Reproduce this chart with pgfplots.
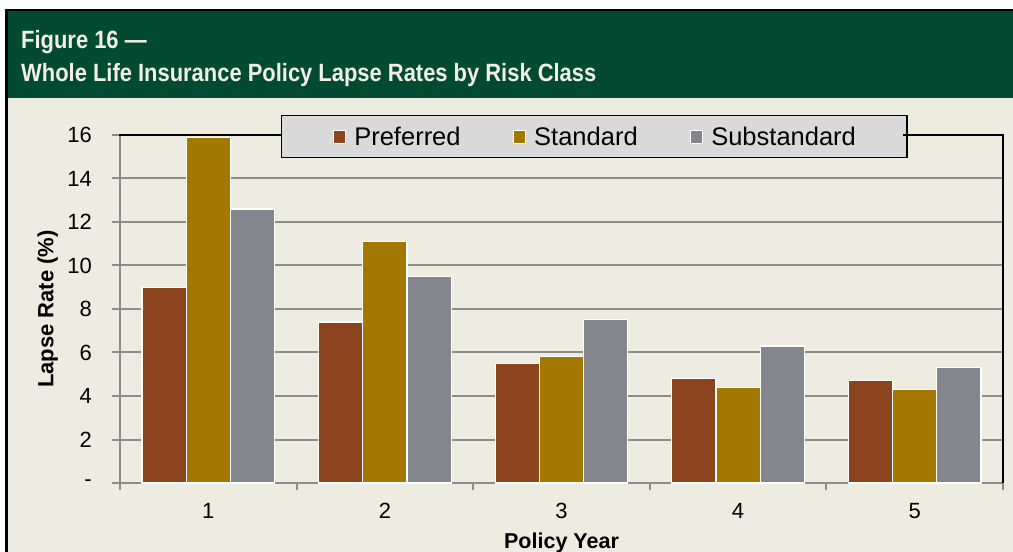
\documentclass[border=0pt]{standalone}
\usepackage{fontspec}
\setmainfont{Liberation Sans}
\newfontfamily\titlefont[FakeStretch=0.877]{Liberation Sans}
\usepackage{pgfplots}
\pgfplotsset{compat=1.18}
\definecolor{hdr}{HTML}{034A32}
\definecolor{bg}{HTML}{EEEBE1}
\definecolor{pref}{HTML}{8B441E}
\definecolor{stdc}{HTML}{A37800}
\definecolor{subc}{HTML}{84868E}
\definecolor{gridc}{HTML}{8C8C8C}
\definecolor{legfill}{HTML}{D9D9D9}
\definecolor{titlec}{HTML}{F2F0E4}
\begin{document}
\begin{tikzpicture}[x=1pt,y=1pt]
\useasboundingbox (0pt,0pt) rectangle (1013pt,552pt);
\clip (0pt,0pt) rectangle (1013pt,552pt);
\fill[white] (0pt,0pt) rectangle (1013pt,552pt);
\fill[black] (5pt,-5pt) rectangle (1020pt,543pt);
\fill[bg] (8pt,-5pt) rectangle (1020pt,541pt);
\fill[hdr] (8pt,454pt) rectangle (1020pt,541pt);
\node[anchor=base west, inner sep=0pt, text=titlec, font=\titlefont\bfseries\fontsize{25}{30}\selectfont] at (21pt,503pt) {Figure 16 —};
\node[anchor=base west, inner sep=0pt, text=titlec, font=\titlefont\bfseries\fontsize{25}{30}\selectfont] at (21pt,470.3pt) {Whole Life Insurance Policy Lapse Rates by Risk Class};
\begin{axis}[
  at={(120pt,69pt)}, anchor=south west, scale only axis,
  width=883pt, height=348pt,
  xmin=0.5, xmax=5.5, ymin=0, ymax=16,
  ybar, bar width=0.25,
  axis x line*=bottom, axis y line*=left,
  axis line style={gridc, line width=2pt, -},
  xtick={1,2,3,4,5}, xticklabels={1,2,3,4,5},
  minor xtick={0.5,1.5,2.5,3.5,4.5,5.5},
  ytick={0,2,4,6,8,10,12,14,16},
  yticklabels={-,2,4,6,8,10,12,14,16},
  tick align=outside,
  major tick length=8pt, minor tick length=7pt,
  tick style={gridc, line width=2pt},
  major x tick style={draw=none},
  ymajorgrids, grid style={gridc, line width=2pt},
  ticklabel style={font=\fontsize{22}{26}\selectfont, text=black},
  xticklabel style={anchor=north, inner sep=0pt, yshift=-12pt},
  yticklabel style={anchor=east, inner sep=0pt, xshift=-20pt},
  xlabel={Policy Year}, ylabel={Lapse Rate (\%)},
  xlabel style={at={(axis description cs:0.5,-0.18678)}, anchor=base, inner sep=0pt, font=\bfseries\fontsize{21.5}{26}\selectfont},
  ylabel style={at={(axis description cs:-0.07554,0.5)}, anchor=base, inner sep=0pt, rotate=0, font=\bfseries\fontsize{22}{26}\selectfont},
  legend columns=3,
  legend style={at={(axis description cs:0.1823,1.0575)}, anchor=north west,
    fill=legfill, draw=black, line width=1.5pt,
    font=\fontsize{25.5}{30}\selectfont,
    inner xsep=51pt, inner ysep=11pt,
    nodes={inner sep=0pt},
    /tikz/every odd column/.append style={column sep=8pt},
    /tikz/every even column/.append style={column sep=52pt}},
  clip=false,
]
\addplot[fill=pref, draw=white, line width=1.2pt, bar shift=-0.25,
  legend image code/.code={\draw[fill=pref,draw=white,line width=1pt] (0pt,-6.3pt) rectangle (12.6pt,6.3pt);}]
  coordinates {(1,9.0) (2,7.4) (3,5.5) (4,4.8) (5,4.7)};
\addplot[fill=stdc, draw=white, line width=1.2pt, bar shift=0,
  legend image code/.code={\draw[fill=stdc,draw=white,line width=1pt] (0pt,-6.3pt) rectangle (12.6pt,6.3pt);}]
  coordinates {(1,15.9) (2,11.1) (3,5.8) (4,4.4) (5,4.3)};
\addplot[fill=subc, draw=white, line width=1.2pt, bar shift=0.25,
  legend image code/.code={\draw[fill=subc,draw=white,line width=1pt] (0pt,-6.3pt) rectangle (12.6pt,6.3pt);}]
  coordinates {(1,12.6) (2,9.5) (3,7.5) (4,6.3) (5,5.3)};
\legend{Preferred,Standard,Substandard}
\end{axis}
\draw[black, line width=1.5pt] (119pt,417pt) -- (281pt,417pt);
\draw[black, line width=1.5pt] (903pt,417pt) -- (1003pt,417pt) -- (1003pt,69pt);
\end{tikzpicture}
\end{document}
